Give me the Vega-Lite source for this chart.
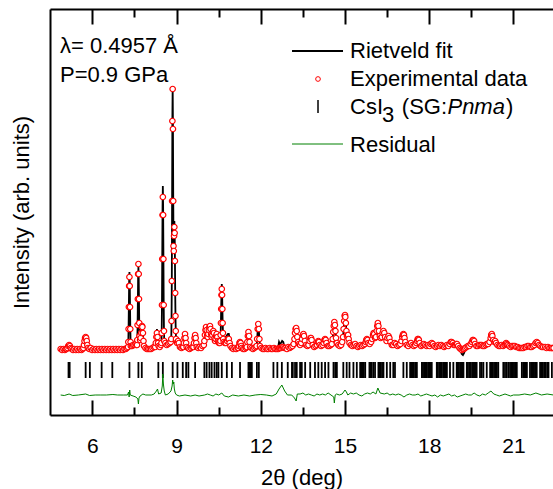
{
"$schema": "https://vega.github.io/schema/vega-lite/v6.json",
"width": 503, "height": 406,
"autosize": "none",
"padding": {"left": 50, "top": 9, "right": 0, "bottom": 74},
"background": "white",
"config": {"view": {"stroke": null}, "font": "Liberation Sans",
  "axis": {"domainColor": "black", "domainWidth": 2, "tickColor": "black", "grid": false, "labelColor": "black", "titleColor": "black", "labelFont": "Liberation Sans", "titleFont": "Liberation Sans", "titleFontWeight": "normal"}},
"datasets": {
"pat": [
{"x":4.87,"o":2,"c":1},{"x":4.92,"o":1,"c":1},{"x":4.97,"o":2,"c":1},{"x":5.02,"o":1,"c":1},{"x":5.05,"o":2,"c":2},
{"x":5.08,"o":2,"c":2},{"x":5.11,"o":3,"c":3},{"x":5.14,"o":5,"c":5},{"x":5.17,"o":6,"c":6},{"x":5.20,"o":5,"c":5},{"x":5.23,"o":3,"c":3},{"x":5.26,"o":2,"c":2},
{"x":5.31,"o":1,"c":1},{"x":5.36,"o":2,"c":1},{"x":5.41,"o":1,"c":1},{"x":5.46,"o":2,"c":1},{"x":5.51,"o":1,"c":1},{"x":5.56,"o":2,"c":1},{"x":5.61,"o":1,"c":1},{"x":5.65,"o":2,"c":2},
{"x":5.68,"o":3,"c":3},{"x":5.70,"o":6,"c":6},{"x":5.72,"o":10,"c":10},{"x":5.74,"o":13,"c":13},{"x":5.76,"o":14,"c":14},{"x":5.78,"o":13,"c":13},{"x":5.80,"o":10,"c":10},{"x":5.82,"o":6,"c":6},{"x":5.84,"o":3,"c":3},
{"x":5.89,"o":2,"c":1},{"x":5.94,"o":3,"c":2},{"x":5.99,"o":1,"c":1},{"x":6.04,"o":2,"c":1},{"x":6.09,"o":1,"c":1},{"x":6.14,"o":2,"c":1},{"x":6.19,"o":1,"c":1},{"x":6.24,"o":2,"c":1},{"x":6.29,"o":1,"c":1},{"x":6.34,"o":2,"c":2},{"x":6.39,"o":1,"c":1},{"x":6.44,"o":2,"c":1},{"x":6.49,"o":1,"c":1},{"x":6.54,"o":2,"c":1},{"x":6.59,"o":1,"c":1},{"x":6.64,"o":2,"c":1},{"x":6.69,"o":1,"c":1},{"x":6.74,"o":2,"c":2},{"x":6.79,"o":1,"c":1},{"x":6.84,"o":2,"c":1},{"x":6.89,"o":1,"c":1},{"x":6.94,"o":2,"c":1},{"x":6.99,"o":1,"c":1},{"x":7.04,"o":2,"c":1},{"x":7.09,"o":1,"c":1},{"x":7.14,"o":2,"c":1},{"x":7.19,"o":2,"c":2},{"x":7.23,"o":3,"c":3},
{"x":7.27,"o":4,"c":4},{"x":7.28,"o":9,"c":9},{"x":7.29,"o":22,"c":24},{"x":7.30,"o":44,"c":47},{"x":7.31,"o":65,"c":70},{"x":7.32,"o":74,"c":79},{"x":7.33,"o":65,"c":70},{"x":7.34,"o":44,"c":47},{"x":7.35,"o":22,"c":24},{"x":7.36,"o":9,"c":10},{"x":7.37,"o":5,"c":5},
{"x":7.41,"o":5,"c":5},{"x":7.45,"o":6,"c":6},{"x":7.50,"o":6,"c":6},{"x":7.54,"o":7,"c":7},{"x":7.57,"o":6,"c":6},
{"x":7.59,"o":6,"c":6},{"x":7.60,"o":11,"c":10},{"x":7.61,"o":26,"c":25},{"x":7.62,"o":52,"c":50},{"x":7.63,"o":77,"c":74},{"x":7.64,"o":87,"c":84},{"x":7.65,"o":77,"c":74},{"x":7.66,"o":52,"c":50},{"x":7.67,"o":28,"c":27},{"x":7.68,"o":15,"c":14},
{"x":7.70,"o":11,"c":11},{"x":7.72,"o":13,"c":13},{"x":7.74,"o":18,"c":18},{"x":7.76,"o":24,"c":23},{"x":7.77,"o":25,"c":24},{"x":7.78,"o":24,"c":23},{"x":7.80,"o":18,"c":18},{"x":7.82,"o":10,"c":10},{"x":7.84,"o":5,"c":5},
{"x":7.89,"o":3,"c":3},{"x":7.94,"o":2,"c":2},{"x":7.99,"o":2,"c":2},{"x":8.04,"o":2,"c":2},{"x":8.09,"o":2,"c":2},{"x":8.14,"o":3,"c":3},{"x":8.19,"o":4,"c":4},
{"x":8.24,"o":4,"c":4},{"x":8.26,"o":8,"c":9},{"x":8.28,"o":14,"c":17},{"x":8.30,"o":18,"c":22},{"x":8.32,"o":14,"c":17},{"x":8.34,"o":8,"c":9},{"x":8.36,"o":5,"c":5},
{"x":8.40,"o":4,"c":4},{"x":8.44,"o":6,"c":6},
{"x":8.46,"o":8,"c":8},{"x":8.47,"o":18,"c":20},{"x":8.48,"o":46,"c":50},{"x":8.49,"o":92,"c":99},{"x":8.50,"o":136,"c":145},{"x":8.51,"o":154,"c":165},{"x":8.52,"o":136,"c":145},{"x":8.53,"o":92,"c":99},{"x":8.54,"o":46,"c":50},{"x":8.55,"o":20,"c":21},{"x":8.56,"o":10,"c":10},
{"x":8.60,"o":8,"c":8},{"x":8.65,"o":6,"c":6},{"x":8.70,"o":7,"c":7},{"x":8.75,"o":8,"c":8},{"x":8.79,"o":9,"c":9},
{"x":8.81,"o":12,"c":12},{"x":8.82,"o":30,"c":31},{"x":8.83,"o":70,"c":72},{"x":8.84,"o":150,"c":152},{"x":8.85,"o":230,"c":233},{"x":8.86,"o":262,"c":265},{"x":8.87,"o":222,"c":226},{"x":8.88,"o":150,"c":155},{"x":8.89,"o":105,"c":110},{"x":8.90,"o":100,"c":105},{"x":8.91,"o":115,"c":121},{"x":8.92,"o":124,"c":130},{"x":8.93,"o":118,"c":124},{"x":8.94,"o":90,"c":95},{"x":8.95,"o":58,"c":60},{"x":8.96,"o":35,"c":35},{"x":8.97,"o":20,"c":20},{"x":8.98,"o":12,"c":12},
{"x":9.02,"o":8,"c":8},{"x":9.05,"o":10,"c":10},{"x":9.08,"o":8,"c":8},{"x":9.12,"o":4,"c":4},{"x":9.17,"o":3,"c":3},{"x":9.21,"o":4,"c":4},
{"x":9.24,"o":4,"c":4},{"x":9.26,"o":8,"c":8},{"x":9.28,"o":13,"c":13},{"x":9.30,"o":17,"c":17},{"x":9.32,"o":13,"c":13},{"x":9.34,"o":8,"c":8},{"x":9.36,"o":4,"c":4},
{"x":9.41,"o":3,"c":3},{"x":9.46,"o":2,"c":2},{"x":9.51,"o":3,"c":3},{"x":9.56,"o":4,"c":4},
{"x":9.60,"o":4,"c":4},{"x":9.62,"o":8,"c":8},{"x":9.64,"o":13,"c":13},{"x":9.66,"o":16,"c":16},{"x":9.68,"o":13,"c":13},{"x":9.70,"o":8,"c":8},{"x":9.72,"o":4,"c":4},
{"x":9.77,"o":3,"c":3},{"x":9.82,"o":4,"c":4},{"x":9.87,"o":3,"c":3},{"x":9.92,"o":5,"c":5},
{"x":9.97,"o":6,"c":6},{"x":9.99,"o":10,"c":10},{"x":10.01,"o":16,"c":15},{"x":10.03,"o":21,"c":20},{"x":10.05,"o":24,"c":23},{"x":10.07,"o":21,"c":20},{"x":10.09,"o":16,"c":16},{"x":10.11,"o":14,"c":14},{"x":10.13,"o":17,"c":17},{"x":10.15,"o":21,"c":21},{"x":10.17,"o":24,"c":23},{"x":10.19,"o":25,"c":24},{"x":10.21,"o":22,"c":21},{"x":10.23,"o":17,"c":17},{"x":10.25,"o":14,"c":14},{"x":10.27,"o":16,"c":16},{"x":10.29,"o":19,"c":19},{"x":10.31,"o":20,"c":19},{"x":10.33,"o":18,"c":17},{"x":10.35,"o":13,"c":13},{"x":10.37,"o":10,"c":10},{"x":10.39,"o":12,"c":12},{"x":10.41,"o":15,"c":15},{"x":10.43,"o":17,"c":17},{"x":10.45,"o":14,"c":14},{"x":10.47,"o":10,"c":10},{"x":10.49,"o":9,"c":9},{"x":10.51,"o":8,"c":8},
{"x":10.54,"o":8,"c":8},{"x":10.56,"o":10,"c":10},{"x":10.57,"o":16,"c":17},{"x":10.58,"o":28,"c":30},{"x":10.59,"o":42,"c":45},{"x":10.60,"o":56,"c":60},{"x":10.61,"o":62,"c":67},{"x":10.62,"o":56,"c":60},{"x":10.63,"o":42,"c":45},{"x":10.64,"o":28,"c":30},{"x":10.65,"o":18,"c":20},{"x":10.66,"o":12,"c":14},{"x":10.68,"o":9,"c":12},
{"x":10.72,"o":8,"c":13},{"x":10.76,"o":8,"c":14},{"x":10.80,"o":10,"c":16},{"x":10.83,"o":12,"c":17},{"x":10.86,"o":12,"c":17},{"x":10.89,"o":8,"c":12},{"x":10.92,"o":5,"c":6},
{"x":10.97,"o":3,"c":3},{"x":11.02,"o":2,"c":2},{"x":11.07,"o":3,"c":3},{"x":11.12,"o":2,"c":2},{"x":11.17,"o":3,"c":3},
{"x":11.20,"o":3,"c":3},{"x":11.22,"o":5,"c":5},{"x":11.24,"o":8,"c":8},{"x":11.26,"o":9,"c":9},{"x":11.28,"o":8,"c":8},{"x":11.30,"o":5,"c":5},{"x":11.32,"o":3,"c":3},
{"x":11.37,"o":2,"c":2},{"x":11.42,"o":2,"c":2},{"x":11.47,"o":3,"c":3},
{"x":11.50,"o":4,"c":4},{"x":11.52,"o":9,"c":9},{"x":11.54,"o":15,"c":15},{"x":11.56,"o":19,"c":18},{"x":11.58,"o":15,"c":15},{"x":11.60,"o":9,"c":9},{"x":11.62,"o":4,"c":4},
{"x":11.67,"o":3,"c":3},{"x":11.72,"o":2,"c":2},{"x":11.77,"o":3,"c":3},{"x":11.82,"o":4,"c":4},
{"x":11.85,"o":5,"c":5},{"x":11.87,"o":12,"c":12},{"x":11.89,"o":22,"c":21},{"x":11.91,"o":27,"c":26},{"x":11.93,"o":22,"c":21},{"x":11.95,"o":12,"c":12},{"x":11.97,"o":5,"c":5},
{"x":12.02,"o":3,"c":3},{"x":12.07,"o":2,"c":2},{"x":12.12,"o":2,"c":2},{"x":12.17,"o":3,"c":3},{"x":12.22,"o":2,"c":2},{"x":12.27,"o":2,"c":2},{"x":12.32,"o":3,"c":3},{"x":12.37,"o":2,"c":2},{"x":12.42,"o":2,"c":2},{"x":12.47,"o":3,"c":3},{"x":12.52,"o":2,"c":2},{"x":12.57,"o":2,"c":2},
{"x":12.62,"o":2,"c":4},{"x":12.65,"o":3,"c":9},{"x":12.68,"o":3,"c":7},{"x":12.72,"o":3,"c":8},{"x":12.76,"o":4,"c":10},{"x":12.80,"o":4,"c":9},{"x":12.84,"o":3,"c":4},
{"x":12.88,"o":3,"c":3},{"x":12.93,"o":2,"c":2},{"x":12.98,"o":4,"c":4},{"x":13.03,"o":3,"c":3},{"x":13.08,"o":4,"c":4},{"x":13.13,"o":5,"c":5},
{"x":13.17,"o":7,"c":7},{"x":13.20,"o":12,"c":12},{"x":13.22,"o":18,"c":18},{"x":13.24,"o":22,"c":22},{"x":13.26,"o":23,"c":23},{"x":13.28,"o":20,"c":20},{"x":13.30,"o":14,"c":14},{"x":13.33,"o":9,"c":9},{"x":13.36,"o":7,"c":7},
{"x":13.40,"o":6,"c":6},{"x":13.44,"o":8,"c":8},{"x":13.47,"o":12,"c":12},{"x":13.50,"o":16,"c":16},{"x":13.52,"o":17,"c":17},{"x":13.54,"o":15,"c":15},{"x":13.57,"o":10,"c":10},{"x":13.61,"o":6,"c":6},
{"x":13.66,"o":5,"c":5},{"x":13.70,"o":6,"c":6},{"x":13.74,"o":10,"c":10},{"x":13.77,"o":13,"c":13},{"x":13.79,"o":13,"c":13},{"x":13.81,"o":11,"c":11},{"x":13.85,"o":6,"c":6},
{"x":13.90,"o":4,"c":4},{"x":13.95,"o":5,"c":5},
{"x":14.00,"o":6,"c":6},{"x":14.03,"o":9,"c":9},{"x":14.05,"o":10,"c":10},{"x":14.07,"o":9,"c":9},{"x":14.10,"o":6,"c":6},
{"x":14.15,"o":5,"c":5},{"x":14.20,"o":6,"c":6},
{"x":14.24,"o":8,"c":8},{"x":14.27,"o":11,"c":11},{"x":14.29,"o":12,"c":12},{"x":14.31,"o":11,"c":11},{"x":14.34,"o":8,"c":8},
{"x":14.39,"o":5,"c":5},{"x":14.44,"o":5,"c":5},{"x":14.49,"o":6,"c":6},
{"x":14.53,"o":7,"c":7},{"x":14.56,"o":12,"c":12},{"x":14.58,"o":19,"c":19},{"x":14.60,"o":25,"c":25},{"x":14.62,"o":29,"c":28},{"x":14.64,"o":26,"c":25},{"x":14.66,"o":20,"c":20},{"x":14.68,"o":13,"c":13},{"x":14.71,"o":8,"c":8},
{"x":14.76,"o":6,"c":6},{"x":14.81,"o":5,"c":5},{"x":14.86,"o":6,"c":6},{"x":14.90,"o":9,"c":9},
{"x":14.93,"o":14,"c":14},{"x":14.95,"o":22,"c":22},{"x":14.97,"o":30,"c":29},{"x":14.99,"o":35,"c":34},{"x":15.00,"o":36,"c":35},{"x":15.01,"o":34,"c":34},{"x":15.03,"o":28,"c":28},{"x":15.05,"o":20,"c":20},{"x":15.07,"o":15,"c":16},{"x":15.09,"o":16,"c":17},{"x":15.11,"o":16,"c":17},{"x":15.13,"o":12,"c":12},{"x":15.16,"o":8,"c":8},
{"x":15.21,"o":6,"c":6},{"x":15.26,"o":5,"c":5},{"x":15.31,"o":6,"c":6},{"x":15.36,"o":7,"c":7},{"x":15.41,"o":5,"c":5},{"x":15.46,"o":4,"c":4},{"x":15.51,"o":5,"c":5},{"x":15.56,"o":6,"c":6},{"x":15.61,"o":5,"c":5},{"x":15.66,"o":6,"c":6},
{"x":15.71,"o":7,"c":7},{"x":15.74,"o":9,"c":9},{"x":15.76,"o":11,"c":11},{"x":15.78,"o":12,"c":12},{"x":15.80,"o":11,"c":11},{"x":15.83,"o":8,"c":8},
{"x":15.88,"o":7,"c":7},{"x":15.93,"o":9,"c":9},
{"x":15.97,"o":12,"c":12},{"x":16.00,"o":16,"c":16},{"x":16.02,"o":18,"c":18},{"x":16.04,"o":17,"c":17},{"x":16.07,"o":13,"c":13},{"x":16.10,"o":14,"c":14},{"x":16.13,"o":20,"c":20},{"x":16.15,"o":25,"c":25},{"x":16.17,"o":28,"c":27},{"x":16.19,"o":25,"c":25},{"x":16.21,"o":20,"c":20},{"x":16.24,"o":15,"c":15},{"x":16.27,"o":13,"c":13},
{"x":16.31,"o":14,"c":14},{"x":16.34,"o":18,"c":18},{"x":16.37,"o":20,"c":20},{"x":16.40,"o":18,"c":18},{"x":16.43,"o":14,"c":14},
{"x":16.48,"o":10,"c":10},{"x":16.51,"o":13,"c":13},{"x":16.55,"o":15,"c":15},{"x":16.58,"o":13,"c":13},{"x":16.62,"o":9,"c":9},
{"x":16.67,"o":6,"c":6},{"x":16.72,"o":6,"c":6},{"x":16.77,"o":8,"c":8},{"x":16.82,"o":7,"c":7},{"x":16.87,"o":5,"c":5},{"x":16.92,"o":6,"c":6},{"x":16.97,"o":7,"c":7},
{"x":17.01,"o":10,"c":10},{"x":17.04,"o":14,"c":14},{"x":17.06,"o":16,"c":16},{"x":17.08,"o":17,"c":17},{"x":17.10,"o":16,"c":16},{"x":17.12,"o":13,"c":13},{"x":17.15,"o":9,"c":9},
{"x":17.20,"o":6,"c":6},{"x":17.25,"o":5,"c":5},{"x":17.30,"o":7,"c":7},{"x":17.35,"o":8,"c":8},{"x":17.40,"o":6,"c":6},{"x":17.45,"o":5,"c":5},{"x":17.50,"o":6,"c":6},
{"x":17.54,"o":8,"c":8},{"x":17.57,"o":10,"c":10},{"x":17.59,"o":12,"c":12},{"x":17.61,"o":12,"c":12},{"x":17.63,"o":11,"c":11},{"x":17.66,"o":8,"c":8},
{"x":17.71,"o":5,"c":5},{"x":17.76,"o":6,"c":6},{"x":17.81,"o":7,"c":7},{"x":17.86,"o":6,"c":6},{"x":17.91,"o":5,"c":5},{"x":17.96,"o":6,"c":6},{"x":18.01,"o":5,"c":5},
{"x":18.05,"o":7,"c":7},{"x":18.09,"o":8,"c":8},{"x":18.13,"o":7,"c":7},
{"x":18.18,"o":5,"c":5},{"x":18.23,"o":4,"c":4},{"x":18.28,"o":5,"c":5},{"x":18.33,"o":6,"c":6},{"x":18.38,"o":5,"c":5},{"x":18.43,"o":6,"c":6},{"x":18.48,"o":5,"c":5},{"x":18.53,"o":4,"c":4},{"x":18.58,"o":5,"c":5},{"x":18.63,"o":6,"c":6},{"x":18.68,"o":5,"c":5},
{"x":18.73,"o":7,"c":7},{"x":18.77,"o":9,"c":9},{"x":18.80,"o":9,"c":9},{"x":18.84,"o":8,"c":8},{"x":18.88,"o":6,"c":6},
{"x":18.92,"o":6,"c":6},{"x":18.96,"o":7,"c":7},{"x":18.99,"o":7,"c":7},{"x":19.03,"o":5,"c":5},
{"x":19.08,"o":3,"c":2},{"x":19.12,"o":2,"c":0},{"x":19.16,"o":1,"c":-3},{"x":19.20,"o":2,"c":-4},{"x":19.24,"o":2,"c":-2},{"x":19.28,"o":3,"c":1},
{"x":19.33,"o":4,"c":4},{"x":19.38,"o":5,"c":5},{"x":19.43,"o":5,"c":5},{"x":19.48,"o":7,"c":7},
{"x":19.52,"o":9,"c":9},{"x":19.55,"o":11,"c":11},{"x":19.57,"o":11,"c":11},{"x":19.60,"o":10,"c":10},{"x":19.63,"o":7,"c":7},
{"x":19.68,"o":5,"c":5},{"x":19.73,"o":5,"c":5},{"x":19.78,"o":6,"c":6},{"x":19.83,"o":6,"c":6},{"x":19.87,"o":6,"c":6},{"x":19.91,"o":5,"c":5},{"x":19.96,"o":5,"c":5},{"x":20.01,"o":6,"c":6},{"x":20.05,"o":7,"c":8},
{"x":20.10,"o":7,"c":7},{"x":20.15,"o":9,"c":9},{"x":20.19,"o":13,"c":13},{"x":20.21,"o":16,"c":16},{"x":20.23,"o":17,"c":17},{"x":20.25,"o":15,"c":15},{"x":20.28,"o":11,"c":11},{"x":20.32,"o":9,"c":9},{"x":20.35,"o":10,"c":10},{"x":20.38,"o":8,"c":8},
{"x":20.43,"o":6,"c":6},{"x":20.48,"o":5,"c":5},{"x":20.53,"o":5,"c":5},{"x":20.58,"o":6,"c":6},{"x":20.63,"o":5,"c":5},
{"x":20.68,"o":6,"c":6},{"x":20.71,"o":7,"c":7},{"x":20.74,"o":8,"c":8},{"x":20.77,"o":7,"c":7},{"x":20.80,"o":6,"c":6},
{"x":20.85,"o":5,"c":5},{"x":20.90,"o":4,"c":4},{"x":20.95,"o":5,"c":5},{"x":21.00,"o":5,"c":5},{"x":21.05,"o":5,"c":5},{"x":21.10,"o":4,"c":4},{"x":21.15,"o":4,"c":4},{"x":21.20,"o":3,"c":3},{"x":21.25,"o":3,"c":3},{"x":21.30,"o":3,"c":3},{"x":21.35,"o":3,"c":3},{"x":21.40,"o":4,"c":4},{"x":21.45,"o":4,"c":4},{"x":21.50,"o":5,"c":5},{"x":21.55,"o":5,"c":5},{"x":21.60,"o":4,"c":4},{"x":21.65,"o":4,"c":4},{"x":21.70,"o":5,"c":5},
{"x":21.75,"o":6,"c":6},{"x":21.79,"o":8,"c":8},{"x":21.83,"o":9,"c":9},{"x":21.87,"o":8,"c":8},{"x":21.91,"o":6,"c":6},
{"x":21.96,"o":5,"c":5},{"x":22.01,"o":4,"c":4},{"x":22.06,"o":4,"c":4},{"x":22.13,"o":4,"c":4},{"x":22.18,"o":3,"c":3},{"x":22.23,"o":4,"c":4},{"x":22.28,"o":3,"c":3},{"x":22.33,"o":3,"c":3},{"x":22.38,"o":3,"c":3},{"x":22.43,"o":3,"c":3}
],
"res": [
{"x":4.87,"r":-44},{"x":5.0,"r":-44.5},{"x":5.17,"r":-43},{"x":5.3,"r":-44.5},{"x":5.5,"r":-44},{"x":5.76,"r":-43},{"x":5.9,"r":-44.5},{"x":6.1,"r":-44},{"x":6.3,"r":-44},{"x":6.5,"r":-44},{"x":6.73,"r":-43.5},{"x":6.9,"r":-44},{"x":7.1,"r":-44},{"x":7.25,"r":-44},{"x":7.29,"r":-41},{"x":7.31,"r":-46},{"x":7.33,"r":-39},{"x":7.35,"r":-44},{"x":7.45,"r":-45},{"x":7.55,"r":-46},{"x":7.62,"r":-48},{"x":7.64,"r":-53},{"x":7.66,"r":-47},{"x":7.7,"r":-45},{"x":7.8,"r":-43},{"x":7.9,"r":-44},{"x":8.1,"r":-44},{"x":8.2,"r":-43},{"x":8.28,"r":-40},{"x":8.32,"r":-38},{"x":8.36,"r":-43},{"x":8.45,"r":-42},{"x":8.49,"r":-35},{"x":8.51,"r":-23},{"x":8.53,"r":-33},{"x":8.56,"r":-40},{"x":8.6,"r":-44},{"x":8.7,"r":-43},{"x":8.8,"r":-40},{"x":8.84,"r":-35},{"x":8.86,"r":-29},{"x":8.88,"r":-33},{"x":8.90,"r":-31},{"x":8.92,"r":-38},{"x":8.95,"r":-42},{"x":9.0,"r":-44},{"x":9.1,"r":-45},{"x":9.3,"r":-44},{"x":9.5,"r":-45},{"x":9.66,"r":-44},{"x":9.8,"r":-45},{"x":10.0,"r":-44},{"x":10.1,"r":-43},{"x":10.2,"r":-44},{"x":10.3,"r":-45},{"x":10.4,"r":-43},{"x":10.5,"r":-44},{"x":10.61,"r":-42},{"x":10.7,"r":-45},{"x":10.85,"r":-46},{"x":11.0,"r":-44},{"x":11.2,"r":-45},{"x":11.4,"r":-44},{"x":11.6,"r":-45},{"x":11.8,"r":-44},{"x":12.0,"r":-43.5},{"x":12.2,"r":-44},{"x":12.4,"r":-45},{"x":12.55,"r":-43},{"x":12.65,"r":-38},{"x":12.75,"r":-34},{"x":12.85,"r":-40},{"x":12.95,"r":-44},{"x":13.1,"r":-44},{"x":13.2,"r":-47},{"x":13.26,"r":-50},{"x":13.3,"r":-43},{"x":13.4,"r":-43},{"x":13.5,"r":-42},{"x":13.6,"r":-44},{"x":13.7,"r":-43},{"x":13.8,"r":-44},{"x":13.9,"r":-45},{"x":14.0,"r":-43},{"x":14.1,"r":-44},{"x":14.2,"r":-43},{"x":14.3,"r":-44},{"x":14.4,"r":-42},{"x":14.5,"r":-44},{"x":14.6,"r":-46},{"x":14.62,"r":-52},{"x":14.65,"r":-44},{"x":14.7,"r":-43},{"x":14.8,"r":-44},{"x":14.9,"r":-43},{"x":15.0,"r":-39},{"x":15.05,"r":-41},{"x":15.1,"r":-44},{"x":15.2,"r":-42},{"x":15.3,"r":-43},{"x":15.4,"r":-42},{"x":15.5,"r":-44},{"x":15.6,"r":-45},{"x":15.7,"r":-43},{"x":15.8,"r":-42},{"x":15.9,"r":-43},{"x":16.0,"r":-41},{"x":16.1,"r":-43},{"x":16.17,"r":-37},{"x":16.25,"r":-42},{"x":16.4,"r":-43},{"x":16.5,"r":-42},{"x":16.6,"r":-44},{"x":16.7,"r":-43},{"x":16.8,"r":-44},{"x":16.9,"r":-43},{"x":17.0,"r":-44},{"x":17.1,"r":-46},{"x":17.2,"r":-44},{"x":17.3,"r":-43},{"x":17.4,"r":-44},{"x":17.5,"r":-44},{"x":17.6,"r":-43},{"x":17.7,"r":-45},{"x":17.8,"r":-44},{"x":17.9,"r":-43},{"x":18.0,"r":-44},{"x":18.1,"r":-45},{"x":18.2,"r":-44},{"x":18.3,"r":-46},{"x":18.4,"r":-44},{"x":18.5,"r":-45},{"x":18.6,"r":-44},{"x":18.7,"r":-43},{"x":18.8,"r":-45},{"x":18.9,"r":-44},{"x":19.0,"r":-46},{"x":19.1,"r":-45},{"x":19.2,"r":-44},{"x":19.3,"r":-43},{"x":19.4,"r":-44},{"x":19.5,"r":-44},{"x":19.6,"r":-42},{"x":19.7,"r":-44},{"x":19.8,"r":-45},{"x":19.9,"r":-43},{"x":20.0,"r":-44},{"x":20.1,"r":-42},{"x":20.2,"r":-40},{"x":20.3,"r":-43},{"x":20.4,"r":-44},{"x":20.5,"r":-45},{"x":20.6,"r":-44},{"x":20.7,"r":-43},{"x":20.8,"r":-44},{"x":20.9,"r":-45},{"x":21.0,"r":-44},{"x":21.2,"r":-44},{"x":21.4,"r":-43},{"x":21.6,"r":-44},{"x":21.8,"r":-42},{"x":22.0,"r":-44},{"x":22.2,"r":-43},{"x":22.43,"r":-44}
],
"refl": [
{"x":5.15},{"x":5.19},{"x":5.76},{"x":5.91},{"x":6.33},{"x":6.71},{"x":7.32},{"x":7.64},{"x":7.76},{"x":8.35},{"x":8.51},{"x":8.86},{"x":9.03},{"x":9.22},{"x":9.34},{"x":9.42},{"x":9.66},{"x":9.99},{"x":10.07},{"x":10.17},{"x":10.25},{"x":10.35},{"x":10.43},{"x":10.49},{"x":10.61},{"x":10.79},{"x":10.97},{"x":11.26},{"x":11.56},{"x":11.60},{"x":11.64},{"x":11.68},{"x":11.86},{"x":11.93},{"x":12.45},{"x":12.59},{"x":12.75},{"x":12.96},{"x":13.11},{"x":13.14},{"x":13.22},{"x":13.28},{"x":13.40},{"x":13.46},{"x":13.58},{"x":13.76},{"x":13.93},{"x":14.05},{"x":14.17},{"x":14.29},{"x":14.41},{"x":14.59},{"x":14.65},{"x":14.71},{"x":14.94},{"x":15.06},{"x":15.16},{"x":15.30},{"x":15.42},{"x":15.54},{"x":15.58},{"x":15.63},{"x":15.67},{"x":15.72},{"x":15.87},{"x":15.91},{"x":15.95},{"x":16.01},{"x":16.07},{"x":16.19},{"x":16.23},{"x":16.27},{"x":16.32},{"x":16.37},{"x":16.49},{"x":16.61},{"x":16.72},{"x":16.78},{"x":17.08},{"x":17.20},{"x":17.32},{"x":17.36},{"x":17.41},{"x":17.45},{"x":17.50},{"x":17.56},{"x":17.74},{"x":17.78},{"x":17.83},{"x":17.87},{"x":17.91},{"x":17.96},{"x":18.01},{"x":18.05},{"x":18.09},{"x":18.27},{"x":18.31},{"x":18.36},{"x":18.40},{"x":18.45},{"x":18.50},{"x":18.54},{"x":18.58},{"x":18.63},{"x":18.74},{"x":18.86},{"x":18.98},{"x":19.02},{"x":19.06},{"x":19.11},{"x":19.15},{"x":19.19},{"x":19.22},{"x":19.34},{"x":19.38},{"x":19.43},{"x":19.48},{"x":19.53},{"x":19.57},{"x":19.61},{"x":19.65},{"x":19.69},{"x":19.81},{"x":19.87},{"x":19.93},{"x":20.05},{"x":20.17},{"x":20.21},{"x":20.26},{"x":20.31},{"x":20.36},{"x":20.41},{"x":20.46},{"x":20.64},{"x":20.70},{"x":20.76},{"x":20.82},{"x":20.88},{"x":20.93},{"x":20.98},{"x":21.02},{"x":21.06},{"x":21.09},{"x":21.12},{"x":21.30},{"x":21.35},{"x":21.39},{"x":21.44},{"x":21.48},{"x":21.59},{"x":21.64},{"x":21.69},{"x":21.73},{"x":21.77},{"x":21.80},{"x":21.83},{"x":21.95},{"x":22.00},{"x":22.05},{"x":22.10},{"x":22.14},{"x":22.20},{"x":22.25},{"x":22.37}
]
},
"resolve": {"axis": {"x": "independent", "y": "independent"}},
"layer": [
{"data": {"name": "pat"},
 "mark": {"type": "line", "color": "black", "strokeWidth": 1.8, "clip": true},
 "encoding": {
  "x": {"field": "x", "type": "quantitative", "scale": {"domain": [4.49, 22.41], "nice": false, "zero": false},
        "axis": {"orient": "bottom", "values": [6, 9, 12, 15, 18, 21], "tickSize": -15, "tickWidth": 2, "labelFontSize": 21, "labelPadding": 35, "title": "2θ (deg)", "titleFontSize": 22, "titlePadding": 11}},
  "y": {"field": "c", "type": "quantitative", "scale": {"domain": [-64, 342], "nice": false, "zero": false},
        "axis": {"orient": "left", "ticks": false, "labels": false, "title": "Intensity (arb. units)", "titleFontSize": 22, "titlePadding": 17}}}},
{"data": {"name": "pat"},
 "mark": {"type": "point", "shape": "circle", "fill": "white", "stroke": "#ff0000", "strokeWidth": 1.2, "size": 30, "opacity": 1, "fillOpacity": 1, "clip": true},
 "encoding": {
  "x": {"field": "x", "type": "quantitative", "axis": {"orient": "top", "values": [6, 9, 12, 15, 18, 21], "tickSize": -15, "tickWidth": 2, "labels": false, "title": null}},
  "y": {"field": "o", "type": "quantitative", "axis": null}}},
{"data": {"name": "refl"},
 "mark": {"type": "rule", "color": "black", "strokeWidth": 1.8, "clip": true},
 "encoding": {
  "x": {"field": "x", "type": "quantitative", "axis": {"orient": "bottom", "values": [7.5, 10.5, 13.5, 16.5, 19.5], "tickSize": -8, "tickWidth": 2, "labels": false, "domain": false, "title": null}},
  "y": {"datum": -11, "axis": null},
  "y2": {"datum": -27}}},
{"data": {"name": "res"},
 "mark": {"type": "line", "color": "#008000", "strokeWidth": 1, "clip": true},
 "encoding": {
  "x": {"field": "x", "type": "quantitative", "axis": {"orient": "top", "values": [7.5, 10.5, 13.5, 16.5, 19.5], "tickSize": -8, "tickWidth": 2, "labels": false, "domain": false, "title": null}},
  "y": {"field": "r", "type": "quantitative", "axis": null}}},
{"data": {"values": [{}]},
 "layer": [
  {"mark": {"type": "text", "text": "λ= 0.4957 Å", "fontSize": 22, "align": "left", "baseline": "alphabetic", "color": "black"},
   "encoding": {"x": {"datum": 4.846, "axis": null}, "y": {"datum": 297.7, "axis": null}}},
  {"mark": {"type": "text", "text": "P=0.9 GPa", "fontSize": 22, "align": "left", "baseline": "alphabetic", "color": "black"},
   "encoding": {"x": {"datum": 4.846, "axis": null}, "y": {"datum": 269.3, "axis": null}}},
  {"mark": {"type": "rule", "color": "black", "strokeWidth": 2},
   "encoding": {"x": {"datum": 13.112, "axis": null}, "x2": {"datum": 14.929}, "y": {"datum": 300, "axis": null}}},
  {"mark": {"type": "point", "shape": "circle", "fill": "white", "stroke": "#ff0000", "strokeWidth": 1, "size": 22, "opacity": 1, "fillOpacity": 1},
   "encoding": {"x": {"datum": 14.038, "axis": null}, "y": {"datum": 272, "axis": null}}},
  {"mark": {"type": "rule", "color": "black", "strokeWidth": 1.5},
   "encoding": {"x": {"datum": 14.038, "axis": null}, "y": {"datum": 251, "axis": null}, "y2": {"datum": 238}}},
  {"mark": {"type": "rule", "color": "#008000", "strokeWidth": 1},
   "encoding": {"x": {"datum": 13.112, "axis": null}, "x2": {"datum": 14.929}, "y": {"datum": 207, "axis": null}}},
  {"mark": {"type": "text", "text": "Rietveld fit", "fontSize": 22, "align": "left", "baseline": "alphabetic", "color": "black"},
   "encoding": {"x": {"datum": 15.178, "axis": null}, "y": {"datum": 292.7, "axis": null}}},
  {"mark": {"type": "text", "text": "Experimental data", "fontSize": 22, "align": "left", "baseline": "alphabetic", "color": "black"},
   "encoding": {"x": {"datum": 15.178, "axis": null}, "y": {"datum": 265, "axis": null}}},
  {"mark": {"type": "text", "text": "CsI", "fontSize": 22, "align": "left", "baseline": "alphabetic", "color": "black"},
   "encoding": {"x": {"datum": 15.178, "axis": null}, "y": {"datum": 236.7, "axis": null}}},
  {"mark": {"type": "text", "text": "3", "fontSize": 22, "align": "left", "baseline": "alphabetic", "color": "black"},
   "encoding": {"x": {"datum": 16.32, "axis": null}, "y": {"datum": 229, "axis": null}}},
  {"mark": {"type": "text", "text": "(SG:", "fontSize": 22, "align": "left", "baseline": "alphabetic", "color": "black"},
   "encoding": {"x": {"datum": 17.025, "axis": null}, "y": {"datum": 236.7, "axis": null}}},
  {"mark": {"type": "text", "text": "Pnma", "fontSize": 22, "fontStyle": "italic", "align": "left", "baseline": "alphabetic", "color": "black"},
   "encoding": {"x": {"datum": 18.65, "axis": null}, "y": {"datum": 236.7, "axis": null}}},
  {"mark": {"type": "text", "text": ")", "fontSize": 22, "align": "left", "baseline": "alphabetic", "color": "black"},
   "encoding": {"x": {"datum": 20.74, "axis": null}, "y": {"datum": 236.7, "axis": null}}},
  {"mark": {"type": "text", "text": "Residual", "fontSize": 22, "align": "left", "baseline": "alphabetic", "color": "black"},
   "encoding": {"x": {"datum": 15.178, "axis": null}, "y": {"datum": 199.3, "axis": null}}}
 ]}
]
}
